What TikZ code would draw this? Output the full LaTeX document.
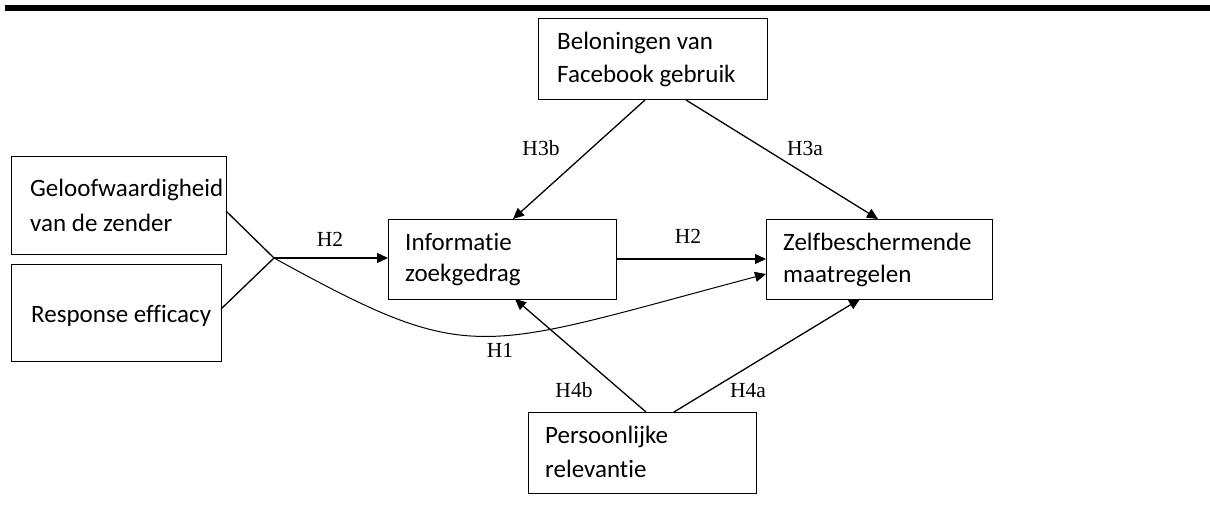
\documentclass[tikz,border=0pt]{standalone}
\usepackage{fontspec}
\newfontfamily\boxfont[Ligatures=NoCommon]{Carlito}
\newfontfamily\labfont{Liberation Serif}
\usetikzlibrary{arrows.meta,calc}
\begin{document}
\begin{tikzpicture}[x=1pt,y=-1pt,
  box/.style={draw, line width=1pt, anchor=north west, inner sep=0pt, outer sep=0pt},
  txt/.style={anchor=base west, inner sep=0pt, font=\boxfont\fontsize{25}{28}\selectfont},
  lab/.style={anchor=base, inner sep=0pt, font=\labfont\fontsize{21.5}{24}\selectfont},
  ln/.style={line width=1.3pt},
  arr/.style={line width=1.3pt, -{Triangle[length=11pt,width=10pt]}},
  arrthin/.style={line width=1pt, -{Triangle[length=11pt,width=10pt]}}]
\useasboundingbox (0,0) rectangle (1210,508);
\fill[black] (5,5) rectangle (1210,11);
% boxes
\node[box, minimum width=215pt, minimum height=97pt] (gel) at (11,157) {};
\node[box, minimum width=210pt, minimum height=97pt] (resp) at (11,264) {};
\node[box, minimum width=229pt, minimum height=81pt] (bel) at (538,19) {};
\node[box, minimum width=228pt, minimum height=80pt] (inf) at (388,219) {};
\node[box, minimum width=226pt, minimum height=80pt] (zelf) at (766,219) {};
\node[box, minimum width=228pt, minimum height=81pt] (pers) at (528,412) {};
% box texts
\node[txt] (gel1) at ($(gel.north west)+(19,39)$) {Geloofwaardigheid};
\node[txt] (gel2) at ($(gel.north west)+(19,74)$) {van de zender};
\node[txt] (resp1) at ($(resp.north west)+(20,58)$) {Response efficacy};
\node[txt] (bel1) at ($(bel.north west)+(19,31)$) {Beloningen van};
\node[txt] (bel2) at ($(bel.north west)+(19,64)$) {Facebook gebruik};
\node[txt] (inf1) at ($(inf.north west)+(17,31)$) {Informatie};
\node[txt] (inf2) at ($(inf.north west)+(17,62)$) {zoekgedrag};
\node[txt] (zelf1) at ($(zelf.north west)+(17,31)$) {Zelfbeschermende};
\node[txt] (zelf2) at ($(zelf.north west)+(17,63)$) {maatregelen};
\node[txt] (pers1) at ($(pers.north west)+(17,31)$) {Persoonlijke};
\node[txt] (pers2) at ($(pers.north west)+(17,65)$) {relevantie};
% connectors
\coordinate (j) at (274,258);
\draw[ln] ($(gel.north east)+(0,54)$) -- (j);
\draw[ln] ($(resp.north east)+(0,45)$) -- (j);
\draw[arr] (j) -- (j -| inf.west);
\draw[arr] (inf.east) -- (zelf.west);
\draw[arr] ($(bel.south west)+(107,0)$) -- ($(inf.north west)+(125,0)$);
\draw[arr] ($(bel.south west)+(148,0)$) -- ($(zelf.north west)+(112,0)$);
\draw[arr] ($(pers.north west)+(118,0)$) -- ($(inf.south west)+(127,0)$);
\draw[arr] ($(pers.north west)+(146,0)$) -- ($(zelf.south west)+(94,0)$);
\draw[arrthin] (j) .. controls (474,368) and (475,351) .. ($(zelf.north west)+(0,55)$);
% labels
\node[lab] (h2a) at (330,246) {H2};
\node[lab] (h2b) at (688,243) {H2};
\node[lab] (h3b) at (541,156) {H3b};
\node[lab] (h3a) at (805,156) {H3a};
\node[lab] (h1) at (500,357) {H1};
\node[lab] (h4b) at (574,397) {H4b};
\node[lab] (h4a) at (748,397) {H4a};
\end{tikzpicture}
\end{document}
